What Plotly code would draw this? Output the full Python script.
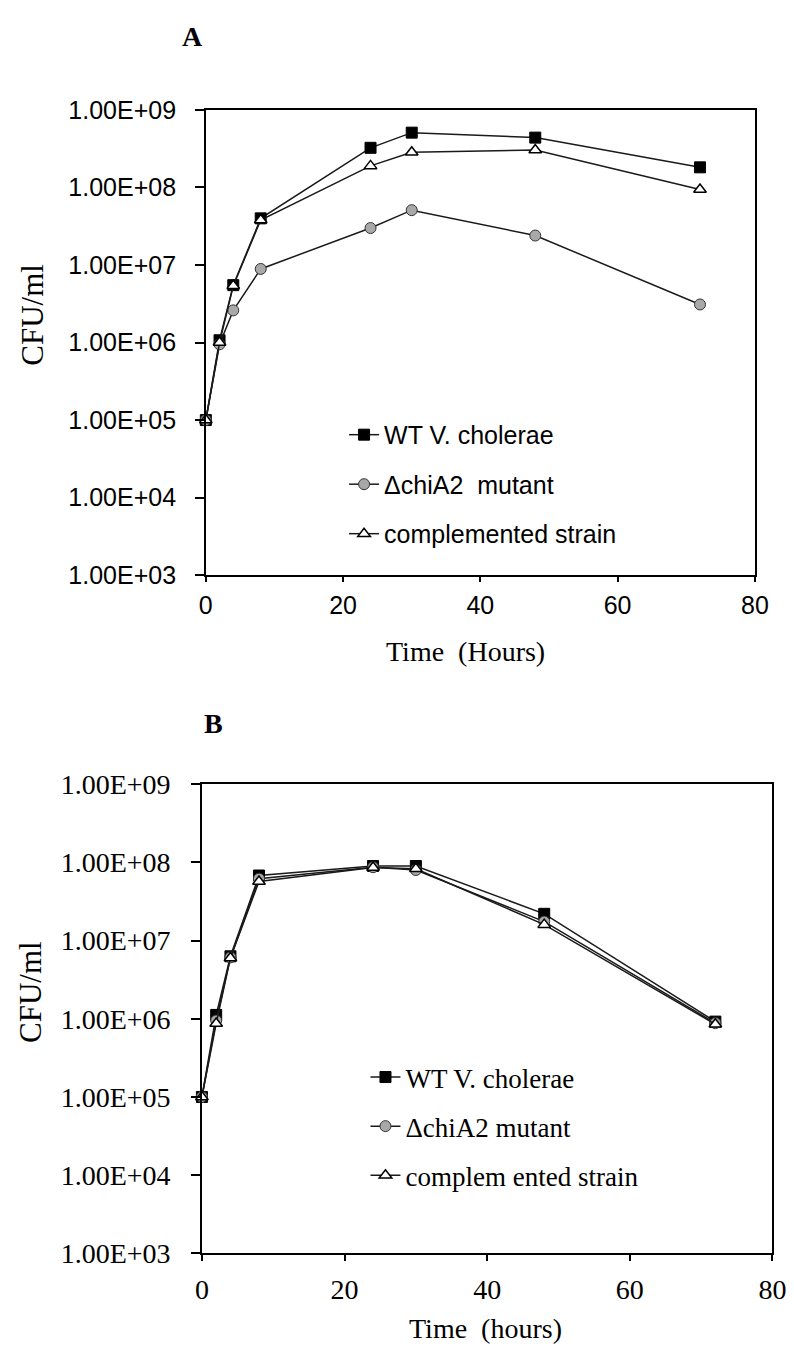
import plotly.graph_objects as go

# ---------------- data ----------------
time_a = [0, 2, 4, 8, 24, 30, 48, 72]
wt_a = [1.0e5, 1.07e6, 5.5e6, 4.0e7, 3.25e8, 5.1e8, 4.4e8, 1.82e8]
mut_a = [1.0e5, 9.5e5, 2.6e6, 8.9e6, 3.0e7, 5.1e7, 2.4e7, 3.1e6]
comp_a = [1.0e5, 1.0e6, 5.4e6, 3.8e7, 1.9e8, 2.85e8, 3.05e8, 9.4e7]

time_b = [0, 2, 4, 8, 24, 30, 48, 72]
wt_b = [1.0e5, 1.12e6, 6.3e6, 6.8e7, 9.0e7, 9.0e7, 2.2e7, 9.2e5]
mut_b = [1.0e5, 9.5e5, 6.1e6, 6.2e7, 8.7e7, 8.0e7, 1.75e7, 8.8e5]
comp_b = [1.0e5, 8.7e5, 6.0e6, 5.7e7, 8.6e7, 8.3e7, 1.6e7, 8.5e5]

names_a = ["WT V. cholerae", "\u0394chiA2\u00a0 mutant", "complemented strain"]
names_b = ["WT V. cholerae", "\u0394chiA2 mutant", "complem ented strain"]

ytick_vals = [1e3, 1e4, 1e5, 1e6, 1e7, 1e8, 1e9]
ytick_text = ["1.00E+03", "1.00E+04", "1.00E+05", "1.00E+06", "1.00E+07", "1.00E+08", "1.00E+09"]
xtick_vals = [0, 20, 40, 60, 80]

W, H = 794, 1360
OFF = 8  # page body margin offset of the html page
SANS = "Liberation Sans, Arial, sans-serif"
SERIF = "Liberation Serif, Times New Roman, serif"

styles = [
    dict(symbol="square", size=11, color="black", line=dict(color="black", width=1)),
    dict(symbol="circle", size=11, color="#a8a8a8", line=dict(color="#333333", width=1)),
    dict(symbol="triangle-up", size=11, color="white", line=dict(color="black", width=1.5)),
]

fig = go.Figure()

for i, (ys, nm) in enumerate(zip([wt_a, mut_a, comp_a], names_a)):
    fig.add_trace(go.Scatter(
        x=time_a, y=ys, name=nm, mode="lines+markers",
        line=dict(color="#1a1a1a", width=1.5), marker=styles[i],
        xaxis="x", yaxis="y", legend="legend", legendgroup="a%d" % i,
        cliponaxis=False))

for i, (ys, nm) in enumerate(zip([wt_b, mut_b, comp_b], names_b)):
    fig.add_trace(go.Scatter(
        x=time_b, y=ys, name=nm, mode="lines+markers",
        line=dict(color="#1a1a1a", width=1.5), marker=styles[i],
        xaxis="x2", yaxis="y2", legend="legend2", legendgroup="b%d" % i,
        cliponaxis=False))


def px_x(p):
    return (p - OFF) / W


def px_y(p):
    return 1 - (p - OFF) / H


axis_common = dict(showline=True, linecolor="black", linewidth=1.5, mirror=True,
                   ticks="outside", tickcolor="black", tickwidth=1.5, showgrid=False,
                   zeroline=False)

fig.update_layout(
    width=W, height=H, margin=dict(l=0, r=0, t=0, b=0),
    paper_bgcolor="white", plot_bgcolor="white",
    xaxis=dict(domain=[px_x(204), px_x(768)], range=[0, 80], tickvals=xtick_vals,
               ticklen=5, ticklabelstandoff=2,
               tickfont=dict(family=SANS, size=25, color="black"),
               anchor="y", **axis_common),
    yaxis=dict(domain=[px_y(573), px_y(97)], type="log", range=[3, 9],
               tickvals=ytick_vals, ticktext=ytick_text, ticklen=9,
               ticklabelstandoff=14,
               tickfont=dict(family=SANS, size=25, color="black"),
               anchor="x", **axis_common),
    xaxis2=dict(domain=[px_x(200), px_x(786)], range=[0, 80], tickvals=xtick_vals,
                ticklen=6, ticklabelstandoff=4,
                tickfont=dict(family=SERIF, size=28, color="black"),
                anchor="y2", **axis_common),
    yaxis2=dict(domain=[px_y(1267), px_y(787)], type="log", range=[3, 9],
                tickvals=ytick_vals, ticktext=ytick_text, ticklen=9,
                ticklabelstandoff=15,
                tickfont=dict(family=SERIF, size=28, color="black"),
                anchor="x2", **axis_common),
    legend=dict(x=px_x(346), y=px_y(406), xanchor="left", yanchor="top",
                font=dict(family=SANS, size=25, color="black"),
                bgcolor="rgba(0,0,0,0)", tracegroupgap=14, traceorder="grouped"),
    legend2=dict(x=px_x(368), y=px_y(1062), xanchor="left", yanchor="top",
                 font=dict(family=SERIF, size=27, color="black"),
                 bgcolor="rgba(0,0,0,0)", tracegroupgap=11, traceorder="grouped"),
    showlegend=True,
)

annots = [
    dict(text="<b>A</b>", x=px_x(190), y=px_y(22), font=dict(family=SERIF, size=28)),
    dict(text="<b>B</b>", x=px_x(212), y=px_y(725), font=dict(family=SERIF, size=28)),
    dict(text="Time\u00a0 (Hours)", x=px_x(471), y=px_y(651), font=dict(family=SERIF, size=28)),
    dict(text="Time\u00a0 (hours)", x=px_x(491), y=px_y(1344), font=dict(family=SERIF, size=28)),
    dict(text="CFU/ml", x=px_x(26), y=px_y(307), textangle=-90, font=dict(family=SERIF, size=31)),
    dict(text="CFU/ml", x=px_x(24), y=px_y(1000), textangle=-90, font=dict(family=SERIF, size=31)),
]
for a in annots:
    a["font"]["color"] = "black"
    fig.add_annotation(xref="paper", yref="paper", showarrow=False,
                       xanchor="center", yanchor="middle", **a)

fig.write_html("out.html")
